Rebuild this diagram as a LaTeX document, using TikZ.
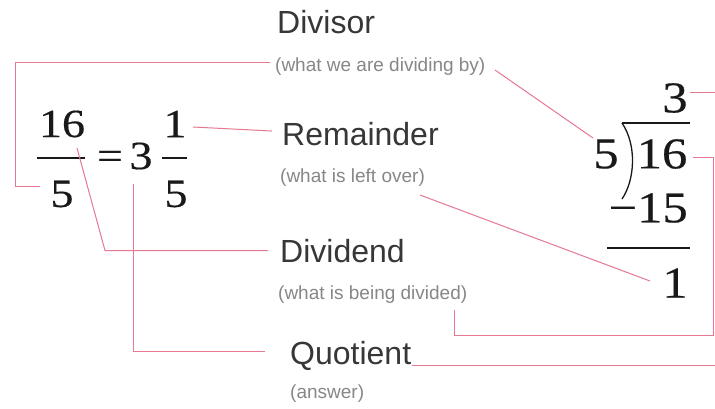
\documentclass[tikz,border=0pt]{standalone}
\usepackage{fontspec}
\setmainfont{Liberation Serif}
\newfontfamily\numfont[FakeBold=0.4]{Liberation Serif}
\newfontfamily\labfont{Liberation Sans}
\definecolor{linkpink}{RGB}{230,120,145}
\definecolor{labgray}{RGB}{55,55,55}
\definecolor{subgray}{RGB}{135,135,135}
\definecolor{mathink}{RGB}{25,25,25}
\newcommand{\widedig}[1]{\scalebox{1.15}[1]{#1}}
\tikzset{
  link/.style={draw=linkpink, line width=1pt},
  mainlab/.style={inner sep=0pt, anchor=base west, text=labgray, font=\labfont\fontsize{32}{36}\selectfont},
  sublab/.style={inner sep=0pt, anchor=base west, text=subgray, font=\labfont\fontsize{19}{22}\selectfont},
  lnum/.style={inner sep=0pt, text=mathink, font=\numfont\fontsize{40}{44}\selectfont},
  rnum/.style={inner sep=0pt, text=mathink, font=\numfont\fontsize{44}{48}\selectfont},
  rulebar/.style={draw=mathink, line width=1.8pt}
}
\begin{document}
\begin{tikzpicture}[x=1pt,y=-1pt]
\useasboundingbox (0,0) rectangle (715,408);
\fill[white] (0,0) rectangle (715,408);

% left equation
\node[lnum] (fn16) at (62,124) {\widedig{16}};
\node[lnum] (fd5) at (62,194) {\widedig{5}};
\draw[rulebar] (37,158) -- (85,158);
\node[lnum] (feq) at (110,160) {\widedig{=}};
\node[lnum] (f3) at (141,156) {\widedig{3}};
\node[lnum] (fn1) at (175,124) {\widedig{1}};
\node[lnum] (fd5b) at (176,194) {\widedig{5}};
\draw[rulebar] (162,158) -- (187,158);

% long division
\node[rnum] (q3) at (675,98) {\widedig{3}};
\node[rnum] (dv5) at (606,154) {\widedig{5}};
\node[rnum] (d16) at (662,154) {\widedig{16}};
\node[rnum, anchor=east] (m15) at (688,208) {\widedig{\char"2212 15}};
\node[rnum] (r1) at (675,283) {\widedig{1}};
\draw[rulebar] (622,123) -- (690,123);
\draw[draw=mathink, line width=1.3pt] (622,123) .. controls (637,145) and (635,180) .. (622,199);
\draw[rulebar] (607,248) -- (690,248);

% labels
\node[mainlab] (divisor) at (277,33) {Divisor};
\node[sublab] (subdvs) at (275,71) {(what we are dividing by)};
\node[mainlab] (remainder) at (282,145) {Remainder};
\node[sublab] (subrem) at (280,182) {(what is left over)};
\node[mainlab] (dividend) at (280,262) {Dividend};
\node[sublab] (subdvd) at (278,299) {(what is being divided)};
\node[mainlab] (quotient) at (290,364) {Quotient};
\node[sublab] (subquo) at (290,398) {(answer)};

% connector end points
\coordinate (a1) at (270,62.5);
\coordinate (a2) at (40,186.5);
\coordinate (b1) at (495,70);
\coordinate (b2) at (593,138);
\coordinate (c1) at (193,127);
\coordinate (c2) at (272,131);
\coordinate (e1) at (420,195);
\coordinate (e2) at (650,281);
\coordinate (g1) at (77,148);
\coordinate (g2) at (268,250.5);
\coordinate (h1) at (454.5,310);
\coordinate (h2) at (693,157.5);
\coordinate (k1) at (133.5,184);
\coordinate (k2) at (265,351.5);
\coordinate (m1) at (412,365.5);
\coordinate (m2) at (715,365.5);
\coordinate (n1) at (690,92.5);
\coordinate (n2) at (715,92.5);

% connectors
\draw[link] (a1) -- (15.5,62.5) -- (15.5,186.5) -- (a2);
\draw[link] (b1) -- (b2);
\draw[link] (c1) -- (c2);
\draw[link] (e1) -- (e2);
\draw[link] (g1) -- (105,250.5) -- (g2);
\draw[link] (h1) -- (454.5,335.5) -- (713.5,335.5) -- (713.5,157.5) -- (h2);
\draw[link] (k1) -- (133.5,351.5) -- (k2);
\draw[link] (m1) -- (m2);
\draw[link] (n1) -- (n2);
\end{tikzpicture}
\end{document}
